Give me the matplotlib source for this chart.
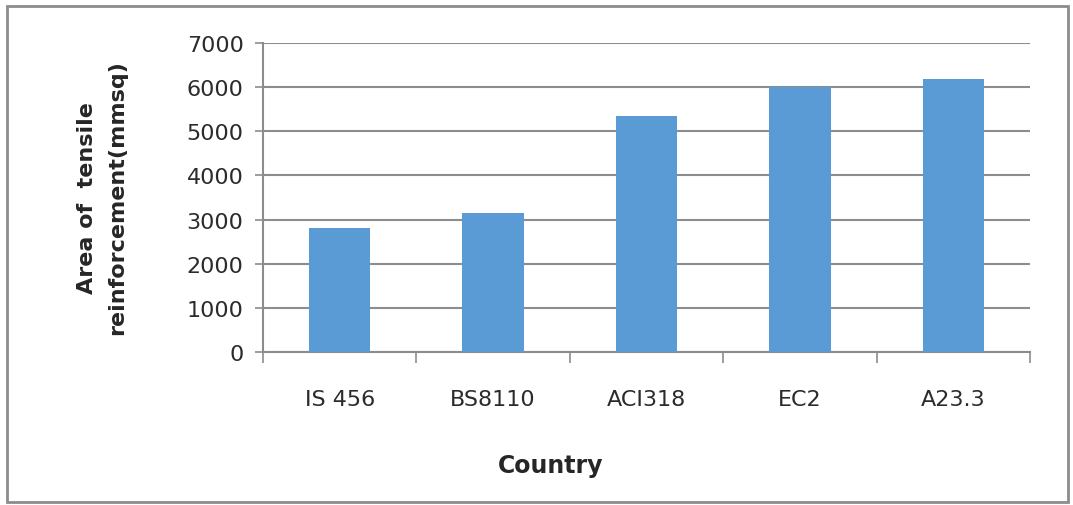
import matplotlib
matplotlib.use("Agg")
import numpy as np
import matplotlib.pyplot as plt
from matplotlib.patches import Rectangle

codes = ["IS 456", "BS8110", "ACI318", "EC2", "A23.3"]
area_mm2 = [2820, 3160, 5340, 6000, 6180]
y_ticks = [0, 1000, 2000, 3000, 4000, 5000, 6000, 7000]

BAR_COLOR = "#5B9BD5"
GRID_COLOR = "#8C8C8C"

plt.rcParams["font.family"] = ["DejaVu Sans"]

fig = plt.figure(figsize=(10.73, 5.06), dpi=100)
ax = fig.add_axes([263 / 1073, 1 - 353 / 506, 767 / 1073, 309 / 506])

x = np.arange(len(codes)) + 0.5
ax.bar(x, area_mm2, width=0.4, color=BAR_COLOR, zorder=3)

ax.set_xlim(0, len(codes))
ax.set_ylim(0, 7000)
ax.set_yticks(y_ticks)
ax.set_yticklabels([str(v) for v in y_ticks])
ax.yaxis.grid(True, color=GRID_COLOR, lw=1.5, zorder=0)

# category boundaries carry the ticks, labels sit at bar centres
ax.set_xticks(np.arange(len(codes) + 1))
ax.set_xticklabels([])
ax.set_xticks(x, minor=True)
ax.set_xticklabels(codes, minor=True)
ax.tick_params(axis="x", which="major", direction="out", length=8, width=1.2, color=GRID_COLOR)
ax.tick_params(axis="x", which="minor", length=0, pad=27, labelsize=16, labelcolor="#2b2b2b")
ax.tick_params(axis="y", direction="out", length=6, width=1.2, color=GRID_COLOR,
               pad=8, labelsize=16, labelcolor="#2b2b2b")

for side in ["top", "right"]:
    ax.spines[side].set_visible(False)
for side in ["left", "bottom"]:
    ax.spines[side].set_color(GRID_COLOR)
    ax.spines[side].set_linewidth(1.5)

fig.text(102 / 1073, 1 - 198 / 506, "Area of  tensile\nreinforcement(mmsq)",
         rotation=90, ha="center", va="center", multialignment="center",
         fontsize=16, fontweight="bold", linespacing=1.65, color="#262626")
fig.text(551 / 1073, 1 - 466 / 506, "Country", ha="center", va="center",
         fontsize=17, fontweight="bold", color="#262626")

# outer chart frame
fig.patches.append(Rectangle((7 / 1073, 1 - 503 / 506), 1061 / 1073, 496 / 506,
                             transform=fig.transFigure, fill=False,
                             edgecolor="#8C8C8C", lw=2))

fig.savefig("out.png", dpi=100)
